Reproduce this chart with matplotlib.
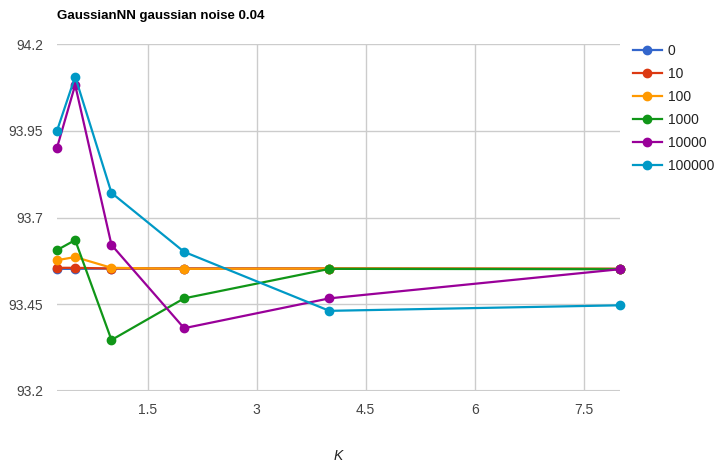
import matplotlib.pyplot as plt

plt.rcParams['font.family'] = ['Liberation Sans', 'DejaVu Sans']

# valores de K e acuracia por serie
k = [0.25, 0.5, 1, 2, 4, 8]
labels = ['0', '10', '100', '1000', '10000', '100000']
s0 = [93.552, 93.552, 93.553, 93.553, 93.553, 93.552]
s10 = [93.555, 93.555, 93.553, 93.553, 93.553, 93.552]
s100 = [93.577, 93.586, 93.555, 93.552, 93.553, 93.552]
s1000 = [93.606, 93.635, 93.347, 93.467, 93.552, 93.551]
s10000 = [93.901, 94.082, 93.621, 93.381, 93.467, 93.551]
s100000 = [93.950, 94.106, 93.771, 93.601, 93.431, 93.447]
series = [s0, s10, s100, s1000, s10000, s100000]
cores = ['#3366cc', '#dc3912', '#ff9900', '#109618', '#990099', '#0099c6']

fig = plt.figure(figsize=(7.15, 4.62), dpi=100)
ax = fig.add_axes([57/715, 71/462, 563/715, 347/462])

for s, c, lb in zip(series, cores, labels):
    ax.plot(k, s, '-o', color=c, lw=1.6, ms=6, label=lb, clip_on=False)

ax.set_xlim(0.25, 8)
ax.set_ylim(93.2, 94.2)
ax.set_xticks([1.5, 3, 4.5, 6, 7.5])
ax.set_xticklabels(['1.5', '3', '4.5', '6', '7.5'])
ax.set_yticks([93.2, 93.45, 93.7, 93.95, 94.2])
ax.set_yticklabels(['93.2', '93.45', '93.7', '93.95', '94.2'])
ax.grid(True, color='#cccccc', lw=1)
ax.set_axisbelow(True)
for sp in ax.spines.values():
    sp.set_visible(False)
ax.axhline(93.2, color='#cccccc', lw=1.5, zorder=0)
ax.tick_params(length=0, labelsize=10, colors='#444444')
ax.tick_params(axis='y', pad=10)
ax.tick_params(axis='x', pad=9)

fig.text(338/715, 1 - 456/462, 'K', style='italic', fontsize=10, color='#222222',
         ha='center', va='center')
fig.text(57/715, 1 - 19/462, 'GaussianNN gaussian noise 0.04', fontsize=9.5,
         fontweight='bold', color='#000000', va='baseline')

fig.legend(loc='upper left', bbox_to_anchor=(627/715, 1 - 38/462), frameon=False,
           fontsize=10, handlelength=2.1, handletextpad=0.45, labelspacing=0.65,
           borderaxespad=0, labelcolor='#222222')

fig.savefig('out.png', dpi=100)
